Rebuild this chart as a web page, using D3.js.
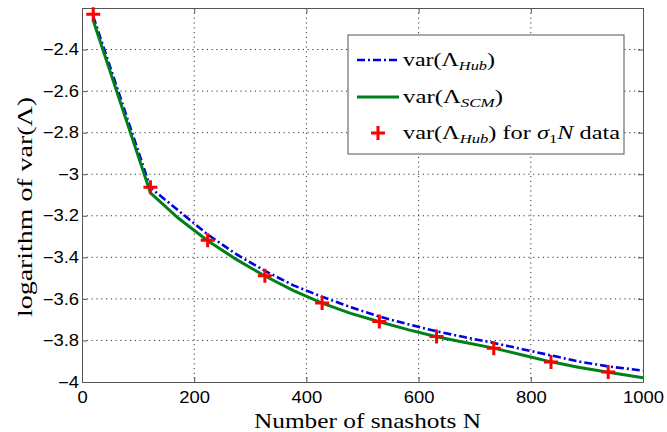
<!DOCTYPE html>
<head>
<meta charset="utf-8">
<style>
body { margin: 0; background: #fff; }
.axis text { font: 16px "Liberation Sans", Arial, sans-serif; fill: #000; }
.axis path, .axis line { stroke: #555; }
.grid line { stroke: #333; stroke-width: 1; stroke-dasharray: 1.2,3.6; }
.serif { font-family: "Liberation Serif", "DejaVu Serif", serif; fill: #000; }
</style>
</head>
<body>
<svg width="667" height="432"></svg>
<script src="https://cdn.jsdelivr.net/npm/d3@7"></script>
<script>
// snapshot counts for the two curves
const nCurve = [20, 122, 172, 224, 275, 326, 377, 428, 479, 530, 581, 632, 683, 734, 785, 836, 887, 938, 1000];
const hubVals = [-2.24, -3.065, -3.175, -3.29, -3.385, -3.465, -3.535, -3.59, -3.64, -3.685, -3.722, -3.756, -3.785, -3.812, -3.842, -3.872, -3.902, -3.925, -3.945];
const scmVals = [-2.26, -3.09, -3.212, -3.32, -3.41, -3.49, -3.56, -3.62, -3.67, -3.71, -3.748, -3.782, -3.81, -3.837, -3.87, -3.903, -3.93, -3.953, -3.98];
// sigma_1 N data markers
const nMarks = [20, 122, 224, 326, 428, 530, 632, 734, 836, 938];
const markVals = [-2.23, -3.063, -3.318, -3.489, -3.62, -3.709, -3.781, -3.837, -3.904, -3.952];
const xTicks = [0, 200, 400, 600, 800, 1000];
const yTicks = [-4, -3.8, -3.6, -3.4, -3.2, -3, -2.8, -2.6, -2.4];

const svg = d3.select("svg"),
    margin = {top: 8, right: 24, bottom: 50, left: 82},
    width = +svg.attr("width") - margin.left - margin.right,
    height = +svg.attr("height") - margin.top - margin.bottom,
    g = svg.append("g").attr("transform", "translate(" + margin.left + "," + margin.top + ")");

const x = d3.scaleLinear().domain([0, 1000]).range([0, width]);
const y = d3.scaleLinear().domain([-4, -2.2]).range([height, 0]);

const fmt = d => (d < 0 ? "\u2212" : "") + Math.abs(d);

// the original picture is a bit wider than tall, so stretch text sideways
function stretch(sel, k) {
  sel.each(function() {
    const w = this.getComputedTextLength();
    d3.select(this).attr("textLength", w * k).attr("lengthAdjust", "spacingAndGlyphs");
  });
}

// grid
g.append("g").attr("class", "grid")
  .selectAll("line").data(xTicks.slice(1, -1)).join("line")
  .attr("x1", d => x(d)).attr("x2", d => x(d)).attr("y1", 0).attr("y2", height);
g.append("g").attr("class", "grid")
  .selectAll("line").data(yTicks.slice(1)).join("line")
  .attr("y1", d => y(d)).attr("y2", d => y(d)).attr("x1", 0).attr("x2", width);

// axes, ticks inward
const xAx = g.append("g").attr("class", "axis").attr("transform", "translate(0," + height + ")")
  .call(d3.axisBottom(x).tickValues(xTicks).tickSizeInner(-5).tickSizeOuter(0).tickPadding(10).tickFormat(fmt));
const yAx = g.append("g").attr("class", "axis")
  .call(d3.axisLeft(y).tickValues(yTicks).tickSizeInner(-5).tickSizeOuter(0).tickPadding(3).tickFormat(fmt));
g.append("g").attr("class", "axis")
  .call(d3.axisTop(x).tickValues(xTicks).tickSizeInner(-5).tickSizeOuter(0).tickFormat(""));
g.append("g").attr("class", "axis").attr("transform", "translate(" + width + ",0)")
  .call(d3.axisRight(y).tickValues(yTicks).tickSizeInner(-5).tickSizeOuter(0).tickFormat(""));
stretch(xAx.selectAll("text"), 1.15);
stretch(yAx.selectAll("text"), 1.15);

const line = d3.line().x(d => x(d[0])).y(d => y(d[1]));

g.append("path").datum(d3.zip(nCurve, hubVals))
  .attr("d", line).attr("fill", "none").attr("stroke", "#0000e0")
  .attr("stroke-width", 2.6).attr("stroke-dasharray", "8,3,2,3");
g.append("path").datum(d3.zip(nCurve, scmVals))
  .attr("d", line).attr("fill", "none").attr("stroke", "#00801a")
  .attr("stroke-width", 3);

g.selectAll(".mk").data(d3.zip(nMarks, markVals)).join("path")
  .attr("class", "mk")
  .attr("transform", d => "translate(" + x(d[0]) + "," + y(d[1]) + ")")
  .attr("d", "M-7,0H7M0,-7V7")
  .attr("stroke", "#f00").attr("stroke-width", 3);

// legend
const lg = svg.append("g").attr("transform", "translate(348,35)");
lg.append("rect").attr("width", 276).attr("height", 119)
  .attr("fill", "#fff").attr("stroke", "#555").attr("stroke-width", 1);
const rows = [25, 62, 98];
lg.append("line").attr("x1", 9).attr("x2", 51).attr("y1", rows[0]).attr("y2", rows[0])
  .attr("stroke", "#0000e0").attr("stroke-width", 2.6).attr("stroke-dasharray", "8,3,2,3");
lg.append("line").attr("x1", 9).attr("x2", 51).attr("y1", rows[1]).attr("y2", rows[1])
  .attr("stroke", "#00801a").attr("stroke-width", 3);
lg.append("path").attr("transform", "translate(30," + rows[2] + ")")
  .attr("d", "M-7,0H7M0,-7V7").attr("stroke", "#f00").attr("stroke-width", 3);

function varText(sel, sub) {
  sel.append("tspan").text("var(\u039B");
  sel.append("tspan").attr("font-style", "italic").attr("font-size", 13).attr("dy", 4).text(sub);
  sel.append("tspan").attr("dy", -4).text(")");
}
const t1 = lg.append("text").attr("class", "serif").attr("x", 55).attr("y", rows[0] + 6).attr("font-size", 19);
varText(t1, "Hub");
t1.attr("textLength", 92).attr("lengthAdjust", "spacingAndGlyphs");
const t2 = lg.append("text").attr("class", "serif").attr("x", 55).attr("y", rows[1] + 6).attr("font-size", 19);
varText(t2, "SCM");
t2.attr("textLength", 100).attr("lengthAdjust", "spacingAndGlyphs");
const t3 = lg.append("text").attr("class", "serif").attr("x", 55).attr("y", rows[2] + 6).attr("font-size", 19);
varText(t3, "Hub");
t3.append("tspan").text(" for ");
t3.append("tspan").attr("font-style", "italic").text("\u03C3");
t3.append("tspan").attr("font-size", 13).attr("dy", 4).text("1");
t3.append("tspan").attr("dy", -4).attr("font-style", "italic").text("N");
t3.append("tspan").text(" data");
t3.attr("textLength", 217).attr("lengthAdjust", "spacingAndGlyphs");

// axis titles
svg.append("text").attr("class", "serif").attr("font-size", 21)
  .attr("x", 254).attr("y", 428)
  .attr("textLength", 227).attr("lengthAdjust", "spacingAndGlyphs")
  .text("Number of snashots N");
svg.append("text").attr("class", "serif").attr("font-size", 21)
  .attr("transform", "translate(32,317) rotate(-90)")
  .attr("textLength", 220).attr("lengthAdjust", "spacingAndGlyphs")
  .text("logarithm of var(\u039B)");
</script>
</body>
